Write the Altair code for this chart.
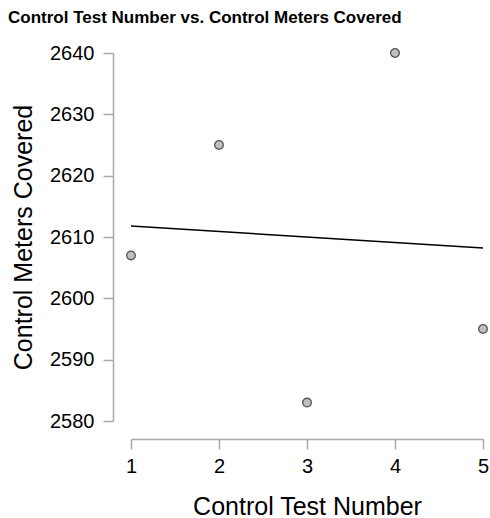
import altair as alt
import pandas as pd

test_number = [1, 2, 3, 4, 5]
meters_covered = [2607, 2625, 2583, 2640, 2595]
x_ticks = [1, 2, 3, 4, 5]
y_ticks = [2580, 2590, 2600, 2610, 2620, 2630, 2640]

df = pd.DataFrame({"test": test_number, "meters": meters_covered})

FONT = "Liberation Sans"
AXIS_GRAY = "#a8a8a8"

xs = alt.Scale(domain=[x_ticks[0], x_ticks[-1]], nice=False, zero=False)
ys = alt.Scale(domain=[y_ticks[0], y_ticks[-1]], nice=False, zero=False)

x_axis = alt.Axis(
    values=x_ticks, format="d", offset=18, tickSize=10, tickWidth=1.5,
    tickColor=AXIS_GRAY, domainColor=AXIS_GRAY, domainWidth=1.5,
    labelFontSize=20, labelColor="black", labelFont=FONT, labelPadding=7,
    labelFlush=False, titleFont=FONT, titleFontSize=25, titleFontWeight="normal",
    titleColor="black", titlePadding=18, grid=False,
)
y_axis = alt.Axis(
    values=y_ticks, format="d", offset=18, tickSize=10, tickWidth=1.5,
    tickColor=AXIS_GRAY, domainColor=AXIS_GRAY, domainWidth=1.5,
    labelFontSize=20, labelColor="black", labelFont=FONT, labelPadding=9,
    labelFlush=False, titleFont=FONT, titleFontSize=25, titleFontWeight="normal",
    titleColor="black", titlePadding=13, grid=False,
)

x_enc = alt.X("test:Q", scale=xs, axis=x_axis, title="Control Test Number")
y_enc = alt.Y("meters:Q", scale=ys, axis=y_axis, title="Control Meters Covered")

line = (
    alt.Chart(df)
    .transform_regression("test", "meters")
    .mark_line(color="black", strokeWidth=1.5)
    .encode(x=x_enc, y=y_enc)
)
points = (
    alt.Chart(df)
    .mark_point(filled=True, fill="#c0c0c0", stroke="#555555", strokeWidth=1.3,
                size=75, opacity=1)
    .encode(x=x_enc, y=y_enc)
)

chart = (
    alt.layer(line, points)
    .properties(
        width=352, height=368,
        autosize=alt.AutoSizeParams(type="none"),
        padding={"left": 131, "top": 53, "right": 7, "bottom": 97},
        background="white",
        title=alt.TitleParams(
            "Control Test Number vs. Control Meters Covered",
            anchor="start", frame="group", dx=-123, offset=16,
            fontSize=17, fontWeight="bold", font=FONT, color="black",
        ),
    )
    .configure_view(stroke=None)
)

chart.save("out.html", embed_options={"renderer": "svg", "actions": False})
